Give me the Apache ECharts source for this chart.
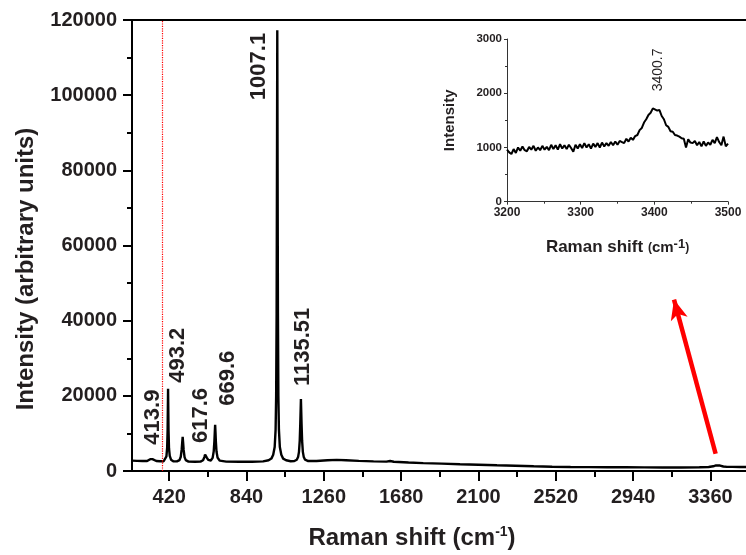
<!DOCTYPE html>
<html>
<head>
<meta charset="utf-8">
<script src="https://cdn.jsdelivr.net/npm/echarts@6/dist/echarts.min.js"></script>
<style>
  html, body { margin: 0; padding: 0; background: #ffffff; }
  #chart { width: 746px; height: 555px; }
</style>
</head>
<body>
<div id="chart"></div>
<script>
// Raman spectrum, full range: shift (cm-1) and intensity (arbitrary units)
const shiftMain = [
  218, 245, 275, 300, 310, 317, 323, 329, 336, 350, 370, 390,
  400, 405, 409, 411.5, 413.9, 416.3, 419, 423, 430, 442, 462,
  476, 483, 488, 490.8, 493.2, 495.6, 498.5, 503.5, 510, 525, 560, 590,
  604, 611, 615, 617.6, 620.2, 625, 632, 646,
  656, 662, 665.5, 667.6, 669.6, 671.6, 673.7, 677, 683, 695,
  730, 800, 870, 930, 960, 975, 985, 993, 998, 1001, 1003.5, 1005.5,
  1007.1, 1008.7, 1010.7, 1013, 1016, 1021, 1029, 1039, 1055, 1080, 1100,
  1113, 1120, 1125, 1129, 1132, 1135.51, 1139, 1142, 1146, 1151, 1158, 1175,
  1220, 1280, 1330, 1380, 1450, 1530, 1600, 1620, 1640, 1720, 1800, 1900,
  2000, 2100, 2200, 2300, 2400, 2500, 2600, 2700, 2800, 2900, 3000, 3100,
  3200, 3300, 3350, 3375, 3390, 3400.7, 3412, 3430, 3450, 3480, 3520, 3553
];
const intensityMain = [
  2750, 2700, 2650, 2650, 2800, 3150, 3400, 3150, 2800, 2650, 2600, 2600,
  3000, 3900, 6200, 11000, 21900, 11000, 6000, 4000, 3000, 2600, 2550,
  2900, 3800, 5800, 7600, 9100, 7600, 5600, 3700, 2900, 2500, 2450, 2500,
  2850, 3700, 4400, 4800, 4400, 3500, 2950, 2800,
  3500, 5300, 7900, 10200, 12300, 10200, 7700, 5200, 3500, 2750,
  2500, 2450, 2450, 2550, 2850, 3300, 4300, 6400, 11000, 20000, 42000, 82000,
  117300, 82000, 42000, 20000, 11000, 6400, 4300, 3300, 2850, 2600, 2650,
  3000, 3700, 5100, 8000, 12500, 19150, 12500, 8000, 5100, 3700, 3000, 2650,
  2650, 2850, 2950, 2850, 2700, 2550, 2500, 2650, 2450, 2250, 2100, 1950,
  1800, 1680, 1520, 1380, 1250, 1150, 1080, 1030, 1000, 980, 960, 950,
  940, 980, 1080, 1250, 1500, 1700, 1450, 1200, 1100, 1100, 1060, 1050
];

// Labelled band positions (cm-1)
const peakShifts = [413.9, 493.2, 617.6, 669.6, 1007.1, 1135.51];

// O-H stretching region, 3200-3500 cm-1
const shiftOH = [
  3200, 3203, 3206, 3209, 3212, 3215, 3218, 3221, 3224, 3227,
  3230, 3233, 3236, 3239, 3242, 3245, 3248, 3251, 3254, 3257,
  3260, 3263, 3266, 3269, 3272, 3275, 3278, 3281, 3284, 3287,
  3290, 3293, 3296, 3299, 3302, 3305, 3308, 3311, 3314, 3317,
  3320, 3323, 3326, 3329, 3332, 3335, 3338, 3341, 3344, 3347,
  3350, 3353, 3356, 3359, 3362, 3365, 3368, 3371, 3374, 3377,
  3380, 3383, 3386, 3389, 3392, 3395, 3398, 3400.7, 3404, 3407,
  3410, 3413, 3416, 3419, 3422, 3425, 3428, 3431, 3434, 3437,
  3440, 3443, 3446, 3449, 3452, 3455, 3458, 3461, 3464, 3467,
  3470, 3473, 3476, 3479, 3482, 3485, 3488, 3491, 3494, 3497, 3500
];
const intensityOH = [
  960, 910, 880, 970, 900, 1000, 940, 1020, 950, 930,
  1010, 960, 1030, 940, 1000, 950, 1030, 960, 1010, 950,
  1050, 970, 1040, 960, 1060, 980, 1040, 970, 1050, 990,
  920, 1050, 980, 1060, 990, 1080, 1000, 1060, 980, 1070,
  1010, 1080, 1000, 1090, 1020, 1080, 1030, 1100, 1040, 1110,
  1050, 1120, 1100, 1080, 1160, 1110, 1180, 1140, 1210, 1230,
  1320, 1360, 1460, 1520, 1600, 1640, 1720, 1740, 1680, 1690,
  1580, 1520, 1410, 1380, 1300, 1290, 1230, 1220, 1200, 1170,
  1160, 1000, 1150, 1090, 1080, 1120, 1040, 1100, 1020, 1110,
  1030, 1090, 1050, 1140, 1080, 1190, 1100, 1040, 1200, 1020, 1070
];
const ohPeakShift = 3400.7;

// Axis ticks of the full spectrum
const xTickLabels = [420, 840, 1260, 1680, 2100, 2520, 2940, 3360];
const xMinorTicks = [630, 1050, 1470, 1890, 2310, 2730, 3150];

const FONT = '"Liberation Sans", Arial, Helvetica, sans-serif';
const INK = '#231f20';
const plain = v => String(v);

const mainLine = shiftMain.map((s, i) => [s, intensityMain[i]]);
const ohLine = shiftOH.map((s, i) => [s, intensityOH[i]]);

// Tag labels are rotated 90deg, so their offsets are given in the text's own frame:
// [along the text (upwards), across it (rightwards)]
const tagNudge = [[-56, -15], [54, -5], [10, -5], [19, 13], [-70, -18], [13, 2]];
const tags = peakShifts.map((s, i) => ({
  value: [s, intensityMain[shiftMain.indexOf(s)]],
  name: String(s),
  label: { offset: tagNudge[i] }
}));
const ohTag = [{
  value: [ohPeakShift, intensityOH[shiftOH.indexOf(ohPeakShift)]],
  name: String(ohPeakShift),
  label: { offset: [16, 3] }
}];

const chart = echarts.init(document.getElementById('chart'), null, { renderer: 'canvas' });

const mainXMin = 218, mainXMax = 3553;

const option = {
  animation: false,
  backgroundColor: '#ffffff',
  textStyle: { fontFamily: FONT },
  grid: [
    { left: 132, right: -1, top: 20, height: 453 },
    { left: 507, top: 39, width: 221, height: 162.7 }
  ],
  xAxis: [
    {
      gridIndex: 0, type: 'value', min: mainXMin, max: mainXMax,
      name: '{a|Raman shift (cm}{s|-1}{a|)}',
      nameLocation: 'middle', nameGap: 54,
      nameTextStyle: {
        padding: [0, 54, 0, 0],
        rich: {
          a: { fontFamily: FONT, fontSize: 24, fontWeight: 'bold', color: INK, lineHeight: 26 },
          s: { fontFamily: FONT, fontSize: 14, fontWeight: 'bold', color: INK, verticalAlign: 'top', lineHeight: 26 }
        }
      },
      splitLine: { show: false },
      axisLine: { lineStyle: { color: '#000', width: 2 } },
      axisTick: { customValues: xTickLabels, length: 10, lineStyle: { color: '#000', width: 2 } },
      axisLabel: {
        customValues: xTickLabels, margin: 16, formatter: plain,
        fontFamily: FONT, fontSize: 20, fontWeight: 'bold', color: INK
      }
    },
    {
      gridIndex: 0, type: 'value', min: mainXMin, max: mainXMax, position: 'bottom',
      splitLine: { show: false },
      axisLine: { show: false },
      axisTick: { customValues: xMinorTicks, length: 6, lineStyle: { color: '#000', width: 2 } },
      axisLabel: { show: false }
    },
    {
      gridIndex: 0, type: 'value', min: mainXMin, max: mainXMax, position: 'top',
      splitLine: { show: false },
      axisLine: { lineStyle: { color: '#000', width: 2 } },
      axisTick: { show: false },
      axisLabel: { show: false }
    },
    {
      gridIndex: 1, type: 'value', min: 3200, max: 3500, interval: 100,
      name: '{a|Raman shift }{p|(}{c|cm}{s|-1}{p|)}',
      nameLocation: 'middle', nameGap: 36,
      nameTextStyle: {
        rich: {
          a: { fontFamily: FONT, fontSize: 17, fontWeight: 'bold', color: INK, lineHeight: 20 },
          p: { fontFamily: FONT, fontSize: 12, fontWeight: 'bold', color: INK, lineHeight: 20 },
          c: { fontFamily: FONT, fontSize: 15, fontWeight: 'bold', color: INK, lineHeight: 20 },
          s: { fontFamily: FONT, fontSize: 13, fontWeight: 'bold', color: INK, verticalAlign: 'top', lineHeight: 20 }
        }
      },
      splitLine: { show: false },
      axisLine: { lineStyle: { color: '#333', width: 1 } },
      axisTick: { length: 3, lineStyle: { color: '#333', width: 1 } },
      minorTick: { show: true, splitNumber: 2, length: 2, lineStyle: { color: '#333', width: 1 } },
      axisLabel: { margin: 5, formatter: plain, fontFamily: FONT, fontSize: 12, fontWeight: 'bold', color: INK }
    }
  ],
  yAxis: [
    {
      gridIndex: 0, type: 'value', min: 0, max: 120000, interval: 20000,
      name: 'Intensity (arbitrary units)',
      nameLocation: 'middle', nameGap: 94,
      nameTextStyle: {
        fontFamily: FONT, fontSize: 24, fontWeight: 'bold', color: INK,
        padding: [0, 47, 0, 0]
      },
      splitLine: { show: false },
      axisLine: { lineStyle: { color: '#000', width: 2 } },
      axisTick: { length: 9, lineStyle: { color: '#000', width: 2 } },
      minorTick: { show: true, splitNumber: 2, length: 5, lineStyle: { color: '#000', width: 2 } },
      axisLabel: { margin: 15, formatter: plain, fontFamily: FONT, fontSize: 20, fontWeight: 'bold', color: INK }
    },
    {
      gridIndex: 1, type: 'value', min: 0, max: 3000, interval: 1000,
      name: 'Intensity',
      nameLocation: 'middle', nameGap: 50,
      nameTextStyle: { fontFamily: FONT, fontSize: 15, fontWeight: 'bold', color: INK },
      splitLine: { show: false },
      axisLine: { lineStyle: { color: '#333', width: 1 } },
      axisTick: { length: 3, lineStyle: { color: '#333', width: 1 } },
      minorTick: { show: true, splitNumber: 2, length: 2, lineStyle: { color: '#333', width: 1 } },
      axisLabel: { margin: 5, formatter: plain, fontFamily: FONT, fontSize: 11.5, fontWeight: 'bold', color: INK }
    }
  ],
  series: [
    {
      name: 'spectrum', type: 'line', xAxisIndex: 0, yAxisIndex: 0,
      data: mainLine, symbol: 'none', smooth: false,
      lineStyle: { color: '#000', width: 2.4 },
      markLine: {
        silent: true, symbol: 'none', animation: false,
        label: { show: false },
        lineStyle: { color: '#ff0000', type: 'dotted', width: 1.2 },
        data: [{ xAxis: 381 }]
      }
    },
    {
      name: 'bands', type: 'scatter', xAxisIndex: 0, yAxisIndex: 0,
      data: tags, symbolSize: 1, itemStyle: { color: 'rgba(0,0,0,0)', opacity: 1 },
      label: {
        show: true, position: 'inside', rotate: 90,
        align: 'left', verticalAlign: 'middle',
        formatter: p => p.name,
        fontFamily: FONT, fontSize: 22, fontWeight: 'bold', color: INK
      },
      markLine: {
        silent: true, animation: false,
        symbol: ['none', 'arrow'], symbolSize: [13, 20],
        label: { show: false },
        lineStyle: { color: '#ff0000', type: 'solid', width: 4.5 },
        data: [[{ coord: [3388, 4600] }, { coord: [3162, 45600] }]]
      }
    },
    {
      name: 'OH region', type: 'line', xAxisIndex: 3, yAxisIndex: 1,
      data: ohLine, symbol: 'none', smooth: false,
      lineStyle: { color: '#000', width: 2 }
    },
    {
      name: 'OH band', type: 'scatter', xAxisIndex: 3, yAxisIndex: 1,
      data: ohTag, symbolSize: 1, itemStyle: { color: 'rgba(0,0,0,0)', opacity: 1 },
      label: {
        show: true, position: 'inside', rotate: 90,
        align: 'left', verticalAlign: 'middle',
        formatter: p => p.name,
        fontFamily: FONT, fontSize: 14, color: INK
      }
    }
  ]
};

chart.setOption(option);
</script>
</body>
</html>
